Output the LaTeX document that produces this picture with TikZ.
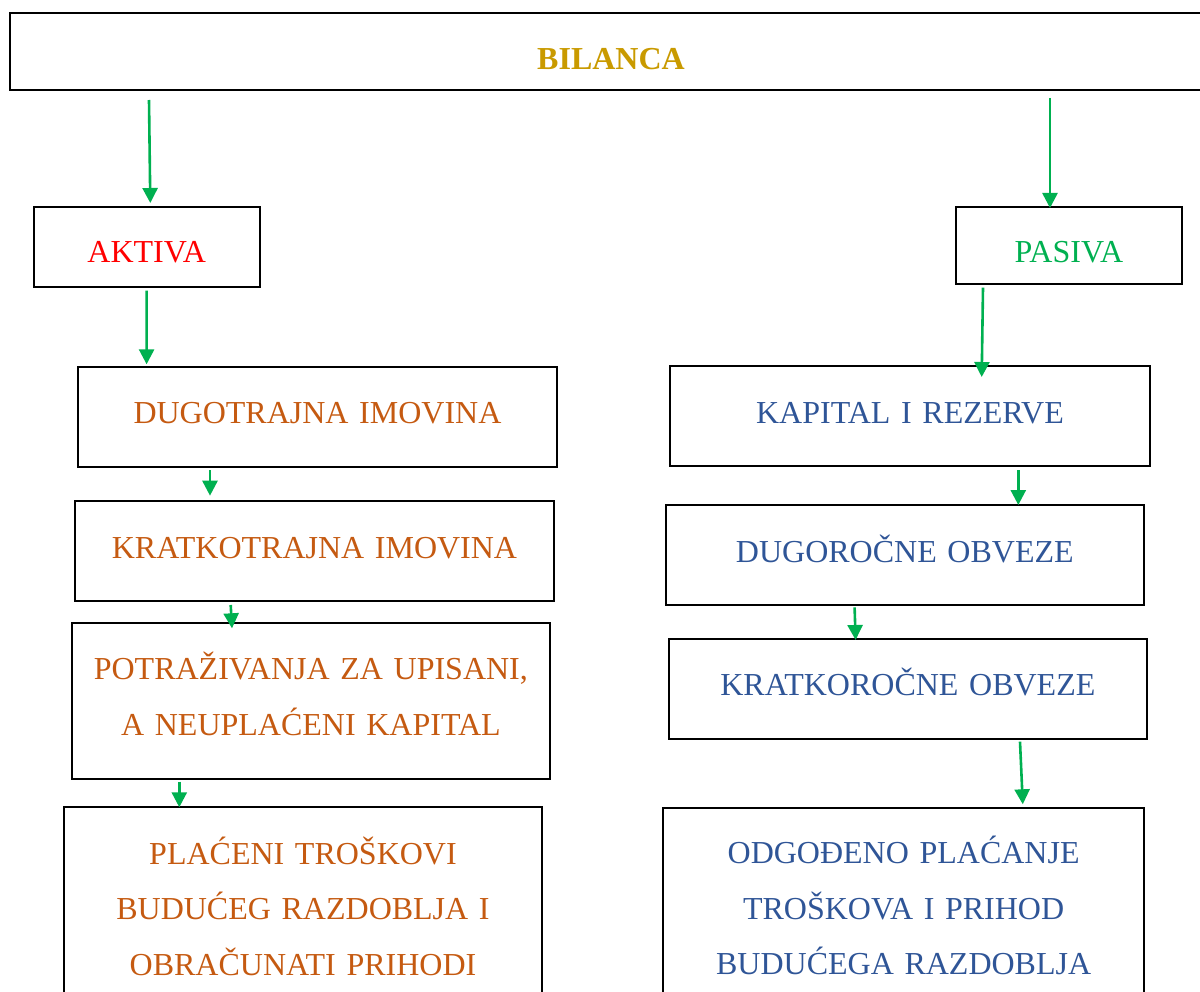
\documentclass[tikz,border=0pt]{standalone}
\usepackage{fontspec}
\setmainfont{Liberation Serif}
\usetikzlibrary{arrows.meta,calc}
\definecolor{gold}{HTML}{C99A00}
\definecolor{orng}{HTML}{C55A11}
\definecolor{blu}{HTML}{2F5597}
\definecolor{grn}{HTML}{00B050}
\definecolor{rd}{HTML}{FF0000}
\begin{document}
\begin{tikzpicture}[x=1pt,y=-1pt,
  box/.style={draw=black, line width=2pt, rectangle, inner sep=0pt, outer sep=0pt,
    anchor=north west, align=center, font=\fontsize{32}{55.5}\selectfont},
  arr/.style={draw=grn, line width=2.6pt, -{Triangle[length=15pt,width=15pt]}}]
\path[use as bounding box] (0,0) rectangle (1200,992);
\clip (0,0) rectangle (1200,992);

\node[box, text=gold, font=\fontsize{32}{55.5}\selectfont\bfseries, text width=1202pt, text height=56.7pt, text depth=20pt] (bil) at (10,13.3) {BILANCA};

\node[box, text=rd, text width=226pt, text height=56pt, text depth=24pt] (akt) at (33.7,207) {AKTIVA};
\node[box, text=grn, text width=226.3pt, text height=56.3pt, text depth=21pt] (pas) at (955.7,206.7) {PASIVA};

\node[box, text=orng, text width=479pt, text height=56.6pt, text depth=43.7pt] (dug) at (78,366.7) {DUGOTRAJNA IMOVINA};
\node[box, text=orng, text width=479pt, text height=57.3pt, text depth=43pt] (krt) at (75,500.7) {KRATKOTRAJNA IMOVINA};
\node[box, text=orng, text width=478.2pt, text height=56.2pt, text depth=99.5pt] (pot) at (71.8,623.3) {POTRAŽIVANJA ZA UPISANI,\\A NEUPLAĆENI KAPITAL};
\node[box, text=orng, text width=478pt, text height=56.7pt, text depth=196pt] (pla) at (64,807.3) {PLAĆENI TROŠKOVI\\BUDUĆEG RAZDOBLJA I\\OBRAČUNATI PRIHODI};

\node[box, text=blu, text width=480pt, text height=57pt, text depth=43pt] (kap) at (670,366) {KAPITAL I REZERVE};
\node[box, text=blu, text width=478.3pt, text height=56.7pt, text depth=43pt] (dugo) at (665.7,505.3) {DUGOROČNE OBVEZE};
\node[box, text=blu, text width=478.3pt, text height=56pt, text depth=44pt] (krk) at (668.7,639) {KRATKOROČNE OBVEZE};
\node[box, text=blu, text width=480.7pt, text height=55.8pt, text depth=196.5pt] (odg) at (663.3,807.7) {ODGOĐENO PLAĆANJE\\TROŠKOVA I PRIHOD\\BUDUĆEGA RAZDOBLJA};

\draw[arr] ($(bil.south west)+(139,10)$) -- ($(akt.north west)+(116.6,-4)$);
\draw[arr] ($(bil.south west)+(1040,8)$) -- ($(pas.north west)+(94.3,1.3)$);
\draw[arr] ($(akt.south west)+(112.9,3.7)$) -- ($(dug.north west)+(68.6,-2.4)$);
\draw[arr] ($(dug.south west)+(132,3)$) -- ($(krt.north west)+(135,-5)$);
\draw[arr] ($(krt.south west)+(155.7,4)$) -- ($(pot.north west)+(160.2,5)$);
\draw[arr] ($(pot.south west)+(107.5,2.7)$) -- ($(pla.north west)+(115.3,0)$);
\draw[arr] ($(pas.south west)+(27.3,3.7)$) -- ($(kap.north west)+(311.7,11)$);
\draw[arr] ($(kap.south west)+(348.3,4)$) -- ($(dugo.north west)+(352.6,-0.3)$);
\draw[arr] ($(dugo.south west)+(188.9,2.3)$) -- ($(krk.north west)+(186.9,1)$);
\draw[arr] ($(krk.south west)+(351.3,2.7)$) -- ($(odg.north west)+(359.5,-3.4)$);
\end{tikzpicture}
\end{document}
